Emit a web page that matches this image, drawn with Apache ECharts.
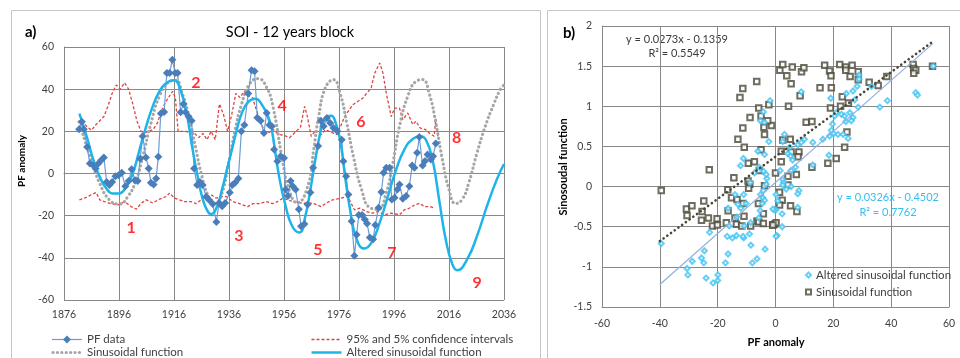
<!DOCTYPE html>
<html><head><meta charset="utf-8">
<script src="https://cdn.jsdelivr.net/npm/echarts@6/dist/echarts.min.js"></script>
<style>html,body{margin:0;padding:0;background:#fff}#c{width:960px;height:358px}</style>
</head><body><div id="c"></div>
<script>
// ---------- Panel a) : SOI - 12 years block ----------
const pfYears = [1881.5,1882.5,1883.2,1884.4,1885.4,1886.5,1887.5,1888.5,1889.5,1890.5,1891.5,1892.5,1893.5,1894.7,1895.8,1897,1898.3,1899.5,1900.6,1901.8,1902.8,1903.7,1904.6,1905.8,1906.8,1907.6,1908.6,1909.5,1910.3,1911.2,1912.4,1913.4,1914.4,1915.4,1916.4,1917.3,1918.4,1919.4,1920.2,1921.3,1922.4,1923.3,1924.4,1925.4,1926.4,1927.7,1928.8,1930.1,1931.4,1932.4,1933.5,1934.6,1936.3,1937.2,1938.2,1939.4,1940.5,1941.6,1943,1944.2,1945.3,1946.3,1947.5,1948.7,1949.7,1950.7,1951.6,1952.4,1953.6,1954.8,1956,1956.6,1957.4,1958.4,1959.2,1960.2,1961.4,1962.2,1963.4,1964.6,1965.6,1966.6,1968.4,1969.4,1970.4,1971.6,1972.8,1974,1975.4,1977,1977.6,1978.6,1979.4,1980.6,1981.6,1982.4,1983.2,1984.4,1985.4,1986.2,1987.2,1988.4,1989.2,1990.4,1991.4,1992.2,1993.2,1994.4,1995.2,1996.2,1997.2,1998,1999.2,2000.4,2001.6,2002.6,2003.4,2004.4,2005.2,2006.4,2007.2,2008.2,2009.4,2010.2,2011.2];
const pfValues = [21,24.5,21,12.6,4.7,4,2.4,4.7,6.3,7.6,-4,-5.5,-4,-1.3,-0.8,0.3,-6,-3.6,2,-3.2,-3.6,7,17.7,7.6,2.4,-4.4,-5.2,-2.4,8,28.4,29.2,47.7,47.7,54,47.7,47.7,29,33,29,27,25,2.4,-5.5,-4,-5.5,-11,-12.6,-14.5,-23,-14,-15.5,-14,-9,-5.5,-4.4,-2.4,20,23,38,49,48.5,26.5,25,19.2,28.7,23,22.4,11.4,5.8,8.2,7.4,-7.6,-10.7,-3.6,-6,-7.6,-17,-25,-24,-14.7,-9,2.7,13,25,22.4,26.3,24,21.6,20,16,5.8,-1.3,-10,-22.6,-39,-29,-19.7,-19.7,-21.8,-23.7,-30.4,-31.2,-24.4,-16.2,-8.8,0.3,2.7,2.7,-12.3,-11.5,-7.6,-5.2,-12,-10.7,-6,3.8,2.7,9.8,17.3,3.8,5.8,9,6.6,8.2,14.2];

const sinYears = [1881.5,1885.5,1889,1892.6,1896,1899.2,1902.2,1904.6,1907.6,1910.6,1914.2,1916.6,1919,1921.4,1923.8,1926.2,1928.6,1931,1933.4,1935.8,1938.2,1940.6,1943.6,1946.6,1949.6,1952,1955.4,1957.8,1960.8,1965,1966.8,1968.6,1971,1974,1976.4,1978.8,1981.2,1984.2,1987.2,1990.2,1993.2,1995.6,1998,2001,2004,2006.4,2008.8,2011.2,2013.6,2016,2018.4,2020.8,2023.2,2026.2,2029.2,2032.2,2034.6,2036];
const sinValues = [24.5,7.9,-4.7,-12.6,-14.5,-11,-3.2,7.9,23.7,36.3,43.5,44.2,38,27,12.6,-1.6,-11,-14.2,-9.5,4.7,20.5,33,42.7,45,41,31.6,6.6,-7.6,-13.9,-4.4,11.4,27,40.5,44.5,38,24,8.2,-7.6,-16.2,-17,-9,5,22.4,36.6,43.7,44.5,38,24,6.6,-7.6,-14.2,-12.3,-4.4,9.8,22.4,32.6,39.7,42];

const altYears = [1881.6,1884.3,1886.7,1889,1891.4,1893.8,1896,1898.6,1901,1903.4,1905.8,1908.2,1910.6,1913,1916,1918.4,1920.8,1922.6,1924.4,1926.2,1928,1929.5,1931.6,1933.4,1935.2,1937,1938.8,1940.6,1943,1945.6,1947.8,1950.2,1951.4,1954.2,1956.6,1959,1961.6,1963.8,1965.6,1967.4,1969.2,1971,1973.2,1974.6,1976.4,1978.2,1980,1982.4,1985.2,1987.8,1990.8,1993.8,1996.8,1999.8,2002.8,2005.6,2007.6,2010,2012.4,2014.8,2017.2,2019,2022.6,2026.2,2029.8,2033.4,2036];
const altValues = [28.4,17.4,6.3,-1.6,-7.1,-9.5,-9.5,-6.3,0,11,22,31.6,38.7,42.7,44.2,39.5,27,12.6,0,-11,-17.4,-19.3,-15.8,-7.9,1.6,11,20.5,28.4,34,35.5,33,27,22,-1.3,-15.5,-25,-28,-20,-7.6,6.6,19.2,26.3,27.4,24.8,16,-1.3,-17,-31.2,-35.6,-32.8,-23.3,-10.7,1.9,11.4,16.4,17.7,16,6.6,-12.3,-31.2,-43,-45.9,-40.7,-29.6,-15.5,-2.8,4.5];

const upperYears = [1881.5,1883,1884.5,1886,1887.5,1889,1890.5,1892,1893.5,1895,1896.5,1898,1899.5,1901,1902.5,1904,1905.5,1907,1908.5,1910,1911.5,1913,1914.5,1915.5,1916.5,1917.5,1919,1920.5,1922,1923.5,1925,1926.5,1928,1929.5,1931,1932.5,1934,1935.5,1937,1938.5,1940,1941.5,1943,1944.5,1946,1947.5,1949,1950.7,1952,1954,1956.2,1958,1960.4,1962,1963.5,1964.5,1965.9,1967.5,1969.5,1971,1972.5,1975,1976.5,1978,1981,1984.7,1987.7,1989,1990.8,1992,1993.2,1995,1996.2,1998,1999.2,2001,2002.8,2004,2005.5,2007.5,2009,2010.6,2011.2,2012];
const upperValues = [21,24,22,20.5,23,25,27,32,38,42,40,43,40,33,25,20,19.5,20,21,24,30,34,37,39,36,20,20,20,19,19,17,19,16,20,16,33,28,20,28,38,36,39,37,36,30,24,20,19.5,21,18.5,18,17,20,22,31.8,27,17.6,20.5,18.4,20.8,20,18.4,22,27,32.6,35.8,40.6,47.6,52.4,47.6,38,27,31,31,25.5,28.7,23.2,24.8,21.6,20.8,19,17.7,26,17];

const lowerYears = [1881.6,1883.5,1885.9,1887.7,1889,1890.7,1893,1895.6,1898,1900.4,1902.3,1904.1,1905.9,1908.3,1910.7,1913.2,1914.4,1916.2,1918,1919.8,1922.2,1924,1925.8,1927.7,1929.5,1931.3,1933.2,1935,1937.4,1939.8,1942.8,1944.7,1947.1,1949.5,1951.9,1953.7,1955.6,1959.2,1962.8,1966.5,1969.5,1971.3,1973.7,1976.8,1979.2,1981.6,1983.5,1985.9,1988.3,1990.2,1992.5,1994.9,1998,1999.8,2001.5,2003.5,2005.3,2007.1,2009,2010.7];
const lowerValues = [-12.5,-11.7,-10.1,-9,-12.5,-13.3,-14.3,-14.9,-13.3,-15.7,-16.9,-14.1,-12.5,-14,-12.2,-10.9,-9.3,-11.7,-12.5,-13.3,-13.3,-14.3,-12.5,-10.9,-10.1,-11.7,-10.9,-10.9,-13.3,-14.3,-15.7,-14.3,-14.3,-13.3,-14.3,-13.3,-11.7,-13.3,-14.1,-14.1,-15.7,-14.1,-12.5,-11.7,-10.9,-17.2,-16.4,-18,-18.8,-18,-19.6,-18.8,-19.6,-17.2,-16.5,-14.9,-14.1,-15.7,-15.7,-16.4];

const labelYears  = [1900.4,1924,1939.6,1955.3,1968.3,1984,1995.2,2018.8,2026.2];
const labelValues = [-26,43,-29.5,32,-36,24.7,-37.5,17.1,-52];
const labelTexts  = ['1','2','3','4','5','6','7','8','9'];

// ---------- Panel b) : scatter ----------
const sinScatter = [[-39.5,-0.05],[-30.8,-0.28],[-28.9,-0.24],[-30.6,-0.36],[-24.8,-0.18],[-25.4,-0.31],[-25.6,-0.42],[-23.2,-0.39],[-20.2,-0.40],[-21.8,-0.49],[-20.1,-0.48],[-22.9,0.21],[-16.4,-0.30],[-16.5,-0.04],[-14.4,0.11],[-17.0,-0.45],[-14.0,-0.39],[-13.5,-0.47],[-11.7,-0.49],[-10.9,-0.37],[-11.2,-0.21],[-15.2,-0.14],[-13.3,-0.16],[-9.5,0.07],[-8.9,0.03],[-9.3,-0.02],[-8.6,-0.49],[-6.4,-0.43],[-5.9,-0.21],[-5.8,-0.44],[-4.2,-0.34],[-4.2,-0.46],[-1.0,-0.48],[-0.3,-0.47],[-9.4,0.29],[-7.3,0.31],[-5.6,0.20],[-3.8,0.01],[-13.0,0.59],[-10.8,0.49],[-5.0,0.46],[-11.3,0.73],[-4.0,0.74],[-1.4,0.76],[-3.8,0.65],[-8.8,0.86],[-2.7,0.82],[-5.0,0.88],[-5.8,0.98],[-2.3,1.02],[-6.5,1.31],[-11.3,1.22],[-12.3,1.11],[1.5,1.45],[2.5,1.52],[5.8,1.49],[3.9,1.38],[9.0,1.43],[9.8,1.48],[5.4,1.28],[8.5,1.13],[4.5,1.0],[15.4,1.23],[17.0,1.51],[18.7,1.44],[22.2,1.52],[24.3,1.49],[26.5,1.51],[24.3,1.45],[19.2,1.38],[28.6,1.43],[25.8,1.37],[28.6,1.33],[19.3,1.23],[23.1,1.12],[32.4,1.30],[35.5,1.26],[38.5,1.37],[47.6,1.52],[47.8,1.47],[48.5,1.45],[47.8,1.41],[54.3,1.50],[25.2,1.04],[22.5,1.0],[19.0,0.98],[10.6,0.80],[12.6,0.81],[24.7,0.68],[23.9,0.49],[21.0,0.35],[18.1,0.29],[12.6,0.24],[2.5,0.58],[5.1,0.59],[2.0,0.44],[5.4,0.43],[8.1,0.43],[7.8,0.37],[2.0,0.31],[4.3,0.13],[7.2,0.15],[0.0,0.17],[4.3,0.02],[1.4,-0.07],[2.3,-0.17],[1.4,-0.23],[5.2,-0.24],[7.4,-0.31],[0.2,-0.45],[-0.9,-0.48]];
const altScatter = [[-39.5,-0.71],[-30.6,-1.02],[-30.3,-1.10],[-28.8,-0.93],[-25.6,-0.89],[-24.8,-0.95],[-24.6,-0.80],[-24.0,-1.14],[-22.8,-0.57],[-21.6,-1.20],[-19.9,-1.10],[-20.0,-1.17],[-17.3,-0.95],[-16.4,-0.84],[-16.7,-0.62],[-14.9,-0.64],[-13.5,-0.61],[-11.0,-0.64],[-11.2,-0.62],[-8.5,-0.73],[-8.0,-0.95],[-6.4,-0.90],[-3.6,-0.78],[-9.0,-0.59],[-16.4,-0.27],[-16.0,-0.49],[-13.4,-0.38],[-13.0,-0.22],[-12.0,-0.27],[-11.0,-0.10],[-10.2,-0.21],[-10.8,-0.49],[-14.0,-0.10],[-5.8,-0.39],[-5.3,-0.30],[-4.4,-0.14],[-3.8,-0.17],[-4.2,-0.05],[-3.2,0.03],[-3.0,0.10],[-4.2,0.19],[-7.3,0.17],[-8.7,0.05],[-12.1,0.26],[-11.1,0.35],[-6.1,0.44],[-3.8,0.40],[-5.6,0.24],[-3.2,0.15],[-5.2,0.82],[-3.8,0.80],[-4.2,0.93],[-2.3,0.56],[-1.9,1.07],[-5.2,-0.10],[-4.6,-0.21],[-8.6,-0.45],[0.2,-0.29],[-0.4,-0.29],[0.5,-0.61],[0.2,-0.62],[2.3,-0.50],[8.9,1.18],[19.1,1.10],[28.9,1.39],[28.9,1.34],[28.2,1.25],[26.8,1.19],[24.5,1.16],[33.2,1.25],[38.7,1.07],[36.1,0.99],[28.6,0.99],[21.0,0.92],[20.5,0.88],[22.8,0.90],[23.9,0.88],[25.7,0.92],[26.8,0.86],[24.3,0.81],[26.2,0.82],[19.7,0.78],[19.3,0.70],[20.1,0.66],[21.6,0.65],[23.4,0.65],[25.1,0.60],[18.7,0.63],[16.4,0.59],[12.9,0.55],[10.0,0.59],[8.9,0.55],[7.7,0.52],[3.1,0.65],[2.5,0.56],[4.3,0.41],[5.2,0.38],[5.9,0.33],[4.9,0.49],[12.9,0.27],[18.5,0.39],[6.9,0.24],[5.4,0.20],[1.6,0.20],[2.5,0.09],[2.8,0.05],[2.5,0.02],[3.7,-0.03],[5.4,0.00],[8.1,-0.05],[7.7,-0.09],[7.7,-0.26],[0.2,-0.10],[-0.9,-0.28],[0.8,-0.18],[2.3,-0.34],[48.5,1.17],[49.1,1.14],[54.6,1.50],[27.4,1.08]];
const sinTrendX = [-40, 54.2];
const sinTrendY = [-0.68, 1.80];
const altTrendX = [-40, 54.4];
const altTrendY = [-1.22, 1.78];
const sinEquation = ['y = 0.0273x - 0.1359', 'R² = 0.5549'];
const altEquation = ['y = 0.0326x - 0.4502', 'R² = 0.7762'];

const zip = (a, b) => a.map((v, i) => [v, b[i]]);
const FONT = 'Lato, "Liberation Sans", sans-serif';
const GRID = '#888888';
const TXT = '#404040';

const C_PF_LINE = '#6f9bd6', C_PF_MARK = '#4a7ebb';
const C_SIN = '#a6a6a6', C_CI = '#dc4440', C_ALT = '#1eb4ea';

function txt(x, y, text, font, fill, align, rot) {
  return {type: 'text', x: x, y: y, rotation: rot || 0, silent: true,
    style: {text: text, font: font, fill: fill, textAlign: align || 'left', align: align || 'left',
            textVerticalAlign: 'middle', verticalAlign: 'middle'}};
}
function seg(x1, y1, x2, y2, stroke, w, dash) {
  return {type: 'line', silent: true, shape: {x1: x1, y1: y1, x2: x2, y2: y2},
    style: {stroke: stroke, lineWidth: w, lineDash: dash || null, lineCap: dash && dash[0] < 1 ? 'round' : 'butt'}};
}

const chart = echarts.init(document.getElementById('c'), null, {renderer: 'canvas'});
chart.setOption({
  animation: false,
  backgroundColor: '#fff',
  textStyle: {fontFamily: FONT},
  grid: [
    {left: 64, top: 47, width: 440, height: 253},
    {left: 602, top: 26, width: 347, height: 281}
  ],
  xAxis: [
    {gridIndex: 0, type: 'value', min: 1876, max: 2036, interval: 20,
     axisLine: {lineStyle: {color: GRID}}, axisTick: {show: false},
     axisLabel: {color: TXT, fontSize: 10.5, margin: 9, fontFamily: FONT, formatter: v => String(v)},
     splitLine: {show: true, lineStyle: {color: GRID, width: 1}}},
    {gridIndex: 1, type: 'value', min: -60, max: 60, interval: 20,
     axisLine: {onZero: false, lineStyle: {color: GRID}}, axisTick: {show: false},
     axisLabel: {color: TXT, fontSize: 10.5, margin: 11, fontFamily: FONT},
     splitLine: {show: true, lineStyle: {color: GRID, width: 1}}}
  ],
  yAxis: [
    {gridIndex: 0, type: 'value', min: -60, max: 60, interval: 20,
     axisLine: {show: true, lineStyle: {color: GRID}}, axisTick: {show: false},
     axisLabel: {color: TXT, fontSize: 10.5, margin: 10, fontFamily: FONT},
     splitLine: {show: true, lineStyle: {color: GRID, width: 1}}},
    {gridIndex: 1, type: 'value', min: -1.5, max: 2, interval: 0.5,
     axisLine: {show: true, onZero: false, lineStyle: {color: GRID}}, axisTick: {show: false},
     axisLabel: {color: TXT, fontSize: 10.5, margin: 10, fontFamily: FONT},
     splitLine: {show: true, lineStyle: {color: GRID, width: 1}}}
  ],
  legend: [
    {orient: 'vertical', left: 800, top: 264, itemWidth: 5, itemHeight: 5, itemGap: 5,
     textStyle: {fontSize: 11.5, color: TXT, fontFamily: FONT},
     data: ['Altered sinusoidal function ', 'Sinusoidal function ']}
  ],
  series: [
    {name: '95% and 5% confidence intervals', type: 'line', xAxisIndex: 0, yAxisIndex: 0,
     data: zip(upperYears, upperValues), symbol: 'none',
     lineStyle: {color: C_CI, width: 1.3, type: [3, 2]}, itemStyle: {color: C_CI}},
    {name: '95% and 5% confidence intervals', type: 'line', xAxisIndex: 0, yAxisIndex: 0,
     data: zip(lowerYears, lowerValues), symbol: 'none',
     lineStyle: {color: C_CI, width: 1.3, type: [3, 2]}, itemStyle: {color: C_CI}},
    {name: 'Sinusoidal function', type: 'line', xAxisIndex: 0, yAxisIndex: 0,
     data: zip(sinYears, sinValues), symbol: 'none', smooth: 0.5,
     lineStyle: {color: C_SIN, width: 3.2, type: [0.1, 4.3], cap: 'round'}, itemStyle: {color: C_SIN}},
    {name: 'PF data', type: 'line', xAxisIndex: 0, yAxisIndex: 0,
     data: zip(pfYears, pfValues), symbol: 'diamond', symbolSize: 8,
     lineStyle: {color: C_PF_LINE, width: 1.2}, itemStyle: {color: C_PF_MARK}},
    {name: 'Altered sinusoidal function', type: 'line', xAxisIndex: 0, yAxisIndex: 0,
     data: zip(altYears, altValues), symbol: 'none', smooth: 0.5,
     lineStyle: {color: C_ALT, width: 2.5}, itemStyle: {color: C_ALT}},
    {name: 'labels', type: 'scatter', xAxisIndex: 0, yAxisIndex: 0, symbolSize: 0, silent: true,
     data: labelYears.map((y, i) => ({value: [y, labelValues[i]], name: labelTexts[i]})),
     label: {show: true, position: 'inside', formatter: p => p.name, color: '#ff0000',
             fontSize: 16, fontWeight: 'bold', fontFamily: FONT}},
    // panel b
    {name: 'Sinusoidal function ', type: 'scatter', xAxisIndex: 1, yAxisIndex: 1,
     data: sinScatter, symbol: 'emptyRect', symbolSize: 5.5,
     itemStyle: {color: '#4a4838', borderWidth: 1.1}},
    {name: 'Altered sinusoidal function ', type: 'scatter', xAxisIndex: 1, yAxisIndex: 1,
     data: altScatter, symbol: 'emptyDiamond', symbolSize: 5,
     itemStyle: {color: '#3ec3f3', borderWidth: 1}},
    {name: 'sinTrend', type: 'line', xAxisIndex: 1, yAxisIndex: 1,
     data: zip(sinTrendX, sinTrendY), symbol: 'none', silent: true,
     lineStyle: {color: '#4a4838', width: 2.6, type: [0.1, 4.5], cap: 'round'}},
    {name: 'altTrend', type: 'line', xAxisIndex: 1, yAxisIndex: 1,
     data: zip(altTrendX, altTrendY), symbol: 'none', silent: true,
     lineStyle: {color: '#8fb0e0', width: 1.2}}
  ],
  graphic: [
    {type: 'rect', silent: true, shape: {x: 11.5, y: 10.5, width: 529, height: 370}, style: {fill: 'none', stroke: '#c6c6c6', lineWidth: 1}},
    {type: 'rect', silent: true, shape: {x: 547.5, y: 10.5, width: 430, height: 370}, style: {fill: 'none', stroke: '#c6c6c6', lineWidth: 1}},
    txt(25, 32, 'a)', 'bold 15px ' + FONT, '#000'),
    txt(563, 33, 'b)', 'bold 15px ' + FONT, '#000'),
    txt(290, 32, 'SOI - 12 years block', '14.5px ' + FONT, '#000', 'center'),
    txt(22, 161, 'PF anomaly', 'bold 10px ' + FONT, '#000', 'center', Math.PI / 2),
    txt(563, 167, 'Sinosoudal function', 'bold 11px ' + FONT, '#000', 'center', Math.PI / 2),
    txt(776, 342, 'PF anomaly', 'bold 11px ' + FONT, '#000', 'center'),
    txt(677, 39, sinEquation[0], '11px ' + FONT, '#3a3a3a', 'center'),
    txt(677, 53.5, sinEquation[1], '11px ' + FONT, '#3a3a3a', 'center'),
    txt(888, 197.5, altEquation[0], '11px ' + FONT, '#33bff0', 'center'),
    txt(888, 212.5, altEquation[1], '11px ' + FONT, '#33bff0', 'center'),
    // legend of panel a
    seg(52, 339.5, 82, 339.5, C_PF_LINE, 1.2),
    {type: 'polygon', silent: true, shape: {points: [[67, 335.5], [71, 339.5], [67, 343.5], [63, 339.5]]}, style: {fill: C_PF_MARK}},
    txt(87, 339.5, 'PF data', '11.5px ' + FONT, TXT),
    seg(53, 352.5, 82, 352.5, C_SIN, 3.2, [0.1, 4.3]),
    txt(87, 352.5, 'Sinusoidal function', '11.5px ' + FONT, TXT),
    seg(311.5, 339.5, 341.5, 339.5, C_CI, 1.3, [3, 2]),
    txt(346.5, 339.5, '95% and 5% confidence intervals', '11.5px ' + FONT, TXT),
    seg(311.5, 352.5, 341.5, 352.5, C_ALT, 2.5),
    txt(346.5, 352.5, 'Altered sinusoidal function', '11.5px ' + FONT, TXT)
  ]
});
</script>
</body></html>
